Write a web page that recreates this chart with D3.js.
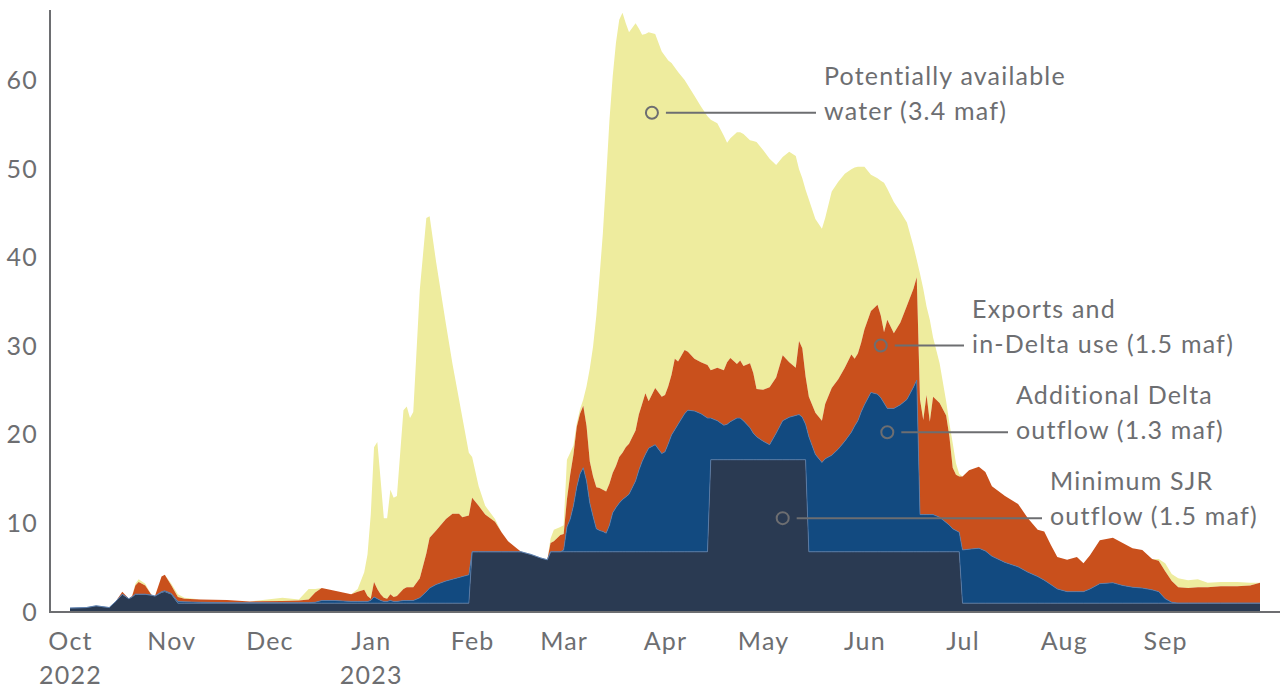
<!DOCTYPE html>
<html>
<head>
<meta charset="utf-8">
<script src="https://cdn.jsdelivr.net/npm/d3@7"></script>
<style>
  body { margin: 0; background: #fff; }
  text { font-family: Lato, "Open Sans", sans-serif; fill: #6d6e71; letter-spacing: 1.2px; }
</style>
</head>
<body>
<svg id="chart" width="1280" height="690"></svg>
<script>
// daily flows (thousand cfs) at irregular dates
const dates = [
  "2022-10-01","2022-10-06","2022-10-09","2022-10-13","2022-10-15","2022-10-17","2022-10-19","2022-10-20",
  "2022-10-21","2022-10-22","2022-10-24","2022-10-26","2022-10-27","2022-10-29","2022-10-30","2022-11-01",
  "2022-11-03","2022-11-05","2022-11-10","2022-11-18","2022-11-25","2022-12-05","2022-12-10","2022-12-13",
  "2022-12-15","2022-12-17","2022-12-21","2022-12-26","2022-12-28","2022-12-30","2022-12-31","2023-01-01",
  "2023-01-02","2023-01-03","2023-01-04","2023-01-05","2023-01-06","2023-01-07","2023-01-08","2023-01-09",
  "2023-01-11","2023-01-12","2023-01-13","2023-01-14","2023-01-16","2023-01-18","2023-01-19","2023-01-21",
  "2023-01-24","2023-01-26","2023-01-28","2023-01-29","2023-01-31","2023-02-01","2023-02-03","2023-02-05",
  "2023-02-08","2023-02-10","2023-02-12","2023-02-15","2023-02-16","2023-02-19","2023-02-22","2023-02-24",
  "2023-02-25","2023-02-26","2023-02-28","2023-03-01","2023-03-02","2023-03-03","2023-03-04","2023-03-05",
  "2023-03-06","2023-03-07","2023-03-08","2023-03-09","2023-03-10","2023-03-11","2023-03-12","2023-03-13",
  "2023-03-14","2023-03-15","2023-03-16","2023-03-17","2023-03-18","2023-03-19","2023-03-20","2023-03-21",
  "2023-03-23","2023-03-24","2023-03-25","2023-03-26","2023-03-27","2023-03-29","2023-03-31","2023-04-01",
  "2023-04-02","2023-04-03","2023-04-04","2023-04-05","2023-04-07","2023-04-08","2023-04-10","2023-04-12",
  "2023-04-14","2023-04-15","2023-04-17","2023-04-19","2023-04-20","2023-04-21","2023-04-23","2023-04-24",
  "2023-04-25","2023-04-27","2023-04-28","2023-04-29","2023-05-01","2023-05-03","2023-05-05","2023-05-07",
  "2023-05-09","2023-05-11","2023-05-12","2023-05-13","2023-05-14","2023-05-15","2023-05-17","2023-05-19",
  "2023-05-20","2023-05-22","2023-05-24","2023-05-26","2023-05-28","2023-05-29","2023-05-30","2023-05-31",
  "2023-06-01","2023-06-03","2023-06-05","2023-06-06","2023-06-07","2023-06-08","2023-06-10","2023-06-12",
  "2023-06-14","2023-06-16","2023-06-17","2023-06-18","2023-06-19","2023-06-20","2023-06-21","2023-06-22",
  "2023-06-24","2023-06-26","2023-06-27","2023-06-28","2023-06-29","2023-06-30","2023-07-01","2023-07-03",
  "2023-07-06","2023-07-08","2023-07-10","2023-07-14","2023-07-18","2023-07-21","2023-07-24","2023-07-26",
  "2023-07-28","2023-07-30","2023-08-02","2023-08-05","2023-08-07","2023-08-09","2023-08-12","2023-08-16",
  "2023-08-19","2023-08-22","2023-08-25","2023-08-28","2023-08-30","2023-09-01","2023-09-03","2023-09-05",
  "2023-09-08","2023-09-11","2023-09-14","2023-09-18","2023-09-23","2023-09-27","2023-09-30"
];

const minSJR = [
  0.45,0.5,0.7,0.5,1.2,2.0,1.5,1.7, 2.0,2.0,2.0,1.9,1.8,2.2,2.3,2.0,
  1,1,1,1,1,1,1,1, 1,1,1,1,1,1,1,1,
  1,1,1,1,1,1,1,1, 1,1,1,1,1,1,1,1,
  1,1,1,1,1,6.8,6.8,6.8, 6.8,6.8,6.8,6.8,6.8,6.5,6.1,5.9,
  6.8,6.8,6.8,6.8,6.8,6.8,6.8,6.8, 6.8,6.8,6.8,6.8,6.8,6.8,6.8,6.8,
  6.8,6.8,6.8,6.8,6.8,6.8,6.8,6.8, 6.8,6.8,6.8,6.8,6.8,6.8,6.8,6.8,
  6.8,6.8,6.8,6.8,6.8,6.8,6.8,6.8, 6.8,17.2,17.2,17.2,17.2,17.2,17.2,17.2,
  17.2,17.2,17.2,17.2,17.2,17.2,17.2,17.2, 17.2,17.2,17.2,17.2,17.2,6.8,6.8,6.8,
  6.8,6.8,6.8,6.8,6.8,6.8,6.8,6.8, 6.8,6.8,6.8,6.8,6.8,6.8,6.8,6.8,
  6.8,6.8,6.8,6.8,6.8,6.8,6.8,6.8, 6.8,6.8,6.8,6.8,6.8,6.8,1,1,
  1,1,1,1,1,1,1,1, 1,1,1,1,1,1,1,1,
  1,1,1,1,1,1,1,1, 1,1,1,1,1,1,1
];

const addOutflow = [
  0,0,0,0,0,0,0,0, 0,0,0,0,0,0.1,0.1,0.1,
  0.2,0.15,0.1,0.05,0.05,0.05,0.05,0.05, 0.1,0.3,0.3,0.2,0.2,0.2,0.2,0.3,
  0.7,0.5,0.3,0.2,0.2,0.3,0.2,0.2, 0.3,0.3,0.3,0.3,0.6,1.3,1.7,2.1,
  2.5,2.7,2.9,3.0,3.2,0,0,0, 0,0,0,0,0,0,0,0,
  0,0,0,0.2,2.8,3.7,5.2,7.3, 8.8,9.5,8.0,5.5,4.0,2.6,2.4,2.3,
  2.1,3.0,4.4,5.0,5.5,5.9,6.2,6.5, 8.0,9.2,10.2,11.0,11.7,12.1,11.1,11.3,
  12.2,13.2,13.8,14.4,15.6,16.0,15.9,15.6, 15.1,4.7,4.4,3.9,4.0,4.3,4.7,4.7,
  4.4,3.6,3.0,2.6,2.1,1.7,3.0,4.4, 4.8,5.0,5.1,4.8,4.0,13.0,11.0,10.1,
  10.5,10.9,11.6,12.5,13.5,14.2,14.8,15.8, 16.6,18.0,17.8,17.4,16.8,16.2,16.2,16.6,
  17.2,18.6,19.4,4.2,4.2,4.2,4.2,4.2, 3.9,3.3,3.0,2.6,2.4,2.2,6.0,6.1,
  6.2,5.9,5.3,4.6,4.1,3.5,3.0,2.6, 2.1,1.6,1.3,1.3,1.3,1.6,2.2,2.3,
  2.0,1.8,1.7,1.5,1.3,0.5,0.1,0, 0,0,0,0,0,0,0
];

const exportsUse = [
  0,0,0,0,0,0.3,0,0.1, 1.0,1.4,1.0,0,0,1.7,1.8,0.9,
  0.5,0.35,0.3,0.3,0.15,0.2,0.25,0.35, 1.1,1.4,1.1,0.8,1.1,1.3,0.6,0.2,
  1.7,1.1,0.7,0.4,0.3,0.7,0.5,0.6, 1.3,1.5,1.5,1.5,2.2,4.3,5.7,6.1,
  7.0,7.4,7.2,6.7,6.7,6.1,5.2,4.2, 3.4,2.2,1.2,0.3,0,0,0,0,
  1.0,1.2,1.9,1.8,3.1,5.0,5.8,6.8, 6.8,7.0,6.2,4.7,4.5,4.7,4.8,4.7,
  4.7,4.7,4.5,4.7,5.2,5.3,5.6,5.7, 5.7,6.3,6.5,6.9,5.3,6.4,6.4,6.4,
  6.5,6.8,8.0,7.1,7.2,6.6,5.9,5.8, 6.0,5.4,6.0,6.2,7.0,7.2,6.1,6.5,
  6.2,7.3,6.8,5.4,5.8,6.5,6.3,7.4, 6.2,5.4,8.3,7.8,5.4,4.5,4.7,4.7,
  6.2,7.6,7.9,8.3,8.8,7.6,7.6,7.8, 8.5,9.2,10.1,9.3,8.0,10.0,8.5,9.3,
  10.6,11.1,11.6,13.0,10.7,13.5,10.5,13.3, 12.9,12.1,10.0,6.9,6.3,6.3,8.3,8.9,
  9.2,8.9,7.9,7.5,7.1,6.1,5.3,5.5, 4.5,3.6,3.6,3.9,3.2,3.8,4.9,5.1,
  4.8,4.4,4.3,3.5,3.5,3.1,2.4,1.8, 1.7,1.8,1.8,1.9,1.9,2.0,2.3
];

const potential = [
  0,0,0,0,0,0,0,0, 0.2,0.3,0.2,0,0,0,0,0.2,
  0.3,0.1,0,0,0,0.35,0.1,1.2, 0.4,0,0,0,0.3,2.0,4.7,9.5,
  15.2,16.6,13.0,9.0,9.1,11.8,11.2,11.3, 20.2,20.4,19.1,19.8,32.6,37.9,36.3,30.3,
  22.0,16.9,12.9,11.3,7.1,4.6,2.2,1.0, 0.3,0,0,0,0,0,0,0,
  0.5,1.3,0.9,1.0,4.5,2.5,1.0,0.4, 0.5,0.7,4.5,10.5,14.7,19.4,24.0,29.0,
  35.4,41.0,44.8,47.8,49.4,49.7,47.9,46.5, 46.0,43.6,41.7,40.6,41.7,40.0,39.0,38.3,
  36.8,35.2,32.9,32.7,30.5,30.1,29.7,28.9, 28.1,28.3,27.6,26.5,24.8,24.8,26.2,25.8,
  26.2,25.2,26.2,27.9,27.1,25.8,24.0,22.4, 23.8,23.9,19.4,19.2,21.1,22.3,21.9,21.7,
  21.0,22.2,22.3,21.9,20.9,21.6,21.1,19.9, 18.4,15.4,14.3,15.2,16.9,14.8,14.8,12.5,
  9.4,4.8,2.0,14.2,14.8,10.0,11.5,6.7, 4.5,1.6,1.5,2.8,1.3,0.3,0,0,
  0,0,0,0,0,0,0,0, 0,0,0,0,0,0,0,0,
  0,0,0,0,0.2,0.9,0.8,1.0, 0.9,0.9,0.5,0.5,0.5,0.3,0
];

const seriesKeys = ["sjr", "add", "exp", "pot"];
const seriesColors = { sjr: "#2a3a52", add: "#124a80", exp: "#c9501c", pot: "#eeec9e" };
const yTicks = [0, 10, 20, 30, 40, 50, 60];

const annotations = [
  { date: "2023-03-28", value: 56.4, labelX: 824, lines: ["Potentially available", "water (3.4 maf)"] },
  { date: "2023-06-06", value: 30.1, labelX: 972, lines: ["Exports and", "in-Delta use (1.5 maf)"] },
  { date: "2023-06-08", value: 20.3, labelX: 1016, lines: ["Additional Delta", "outflow (1.3 maf)"] },
  { date: "2023-05-07", value: 10.6, labelX: 1050, lines: ["Minimum SJR", "outflow (1.5 maf)"] }
];

const parse = d3.timeParse("%Y-%m-%d");
const rows = dates.map((d, i) => ({
  date: parse(d),
  sjr: minSJR[i], add: addOutflow[i], exp: exportsUse[i], pot: potential[i]
}));

const svg = d3.select("#chart");
const grey = "#6d6e71";
const fontSize = "25px";

const x = d3.scaleTime()
  .domain([parse("2022-10-01"), parse("2023-09-30")])
  .range([70, 1260]);
const y = d3.scaleLinear().domain([0, 68]).range([612, 10]);

const stacked = d3.stack().keys(seriesKeys)(rows);

const area = d3.area()
  .x(d => x(d.data.date))
  .y0(d => y(d[0]))
  .y1(d => y(d[1]));

svg.append("g").selectAll("path")
  .data(stacked.slice().reverse())
  .join("path")
  .attr("fill", d => seriesColors[d.key])
  .attr("d", area);

// thin light edge on top of the two blue layers
const edge = d3.line()
  .x(d => x(d.data.date))
  .y(d => y(d[1]));
svg.append("g").selectAll("path")
  .data(stacked.slice(0, 2))
  .join("path")
  .attr("fill", "none")
  .attr("stroke", "#5b7fae")
  .attr("stroke-width", 0.9)
  .attr("stroke-opacity", 0.8)
  .attr("d", edge);

// axes lines
svg.append("line")
  .attr("x1", 50).attr("x2", 50).attr("y1", 10).attr("y2", 613)
  .attr("stroke", grey).attr("stroke-width", 2);
svg.append("line")
  .attr("x1", 49).attr("x2", 1280).attr("y1", 612).attr("y2", 612)
  .attr("stroke", grey).attr("stroke-width", 2);

// y axis labels
const yAxis = svg.append("g")
  .attr("transform", "translate(38,0)")
  .call(d3.axisLeft(y).tickValues(yTicks).tickSize(0).tickPadding(0));
yAxis.select(".domain").remove();
yAxis.selectAll("text")
  .attr("fill", grey)
  .style("font-size", fontSize)
  .style("font-family", "Lato, sans-serif");

// x axis labels
const xAxis = svg.append("g")
  .attr("transform", "translate(0,612)")
  .call(d3.axisBottom(x).ticks(d3.timeMonth.every(1)).tickSize(0).tickFormat(d3.timeFormat("%b")));
xAxis.select(".domain").remove();
xAxis.selectAll("text")
  .attr("fill", grey)
  .attr("y", 38).attr("dy", 0)
  .style("font-size", fontSize)
  .style("font-family", "Lato, sans-serif")
  .each(function(d) {
    const m = d.getMonth();
    if (m === 9 || m === 0) {
      d3.select(this).append("tspan")
        .attr("x", 0).attr("dy", 34)
        .text(d.getFullYear());
    }
  });

// annotations
const ann = svg.append("g").selectAll("g")
  .data(annotations)
  .join("g")
  .attr("transform", d => `translate(${x(parse(d.date))},${y(d.value)})`);

ann.append("circle")
  .attr("r", 6)
  .attr("fill", "none")
  .attr("stroke", grey)
  .attr("stroke-width", 2);

ann.append("line")
  .attr("x1", 14)
  .attr("x2", d => d.labelX - 8 - x(parse(d.date)))
  .attr("stroke", grey)
  .attr("stroke-width", 2);

ann.append("text")
  .attr("x", d => d.labelX - x(parse(d.date)))
  .style("font-size", fontSize)
  .selectAll("tspan")
  .data(d => d.lines)
  .join("tspan")
  .attr("x", function() { return d3.select(this.parentNode).attr("x"); })
  .attr("y", (d, i) => i === 0 ? -28 : 7)
  .text(d => d);
</script>
</body>
</html>
